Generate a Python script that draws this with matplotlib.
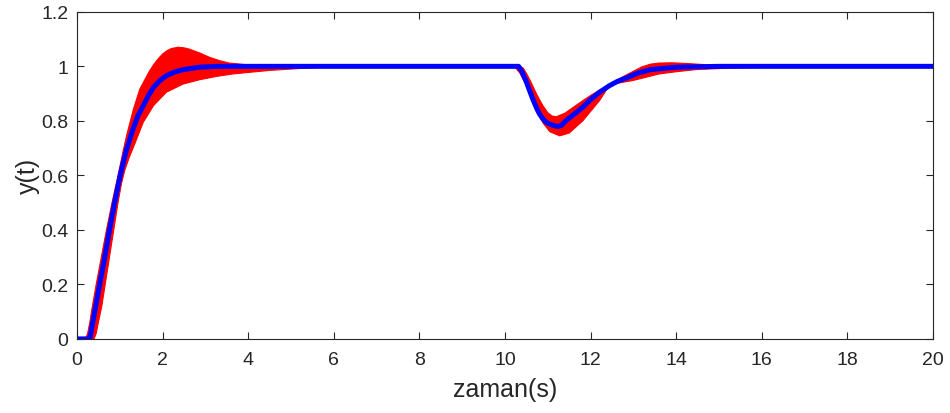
import matplotlib
matplotlib.use('Agg')
import matplotlib.pyplot as plt
import numpy as np

# nominal response (blue)
t_nom = [0, 0.3, 0.53, 0.65, 0.76, 0.88, 1.01, 1.15, 1.31, 1.43, 1.55, 1.67, 1.79, 1.94, 2.09,
         2.28, 2.48, 2.87, 3.3, 4.0, 10.32, 10.4, 10.49, 10.59, 10.65, 10.75, 10.81, 10.89, 10.96,
         11.06, 11.16, 11.24, 11.33, 11.43, 11.55, 11.67, 11.82, 12.0, 12.21, 12.44, 12.63, 12.83,
         13.1, 13.4, 14.0, 15.0, 20]
y_nom = [0, 0, 0.2, 0.3, 0.4, 0.5, 0.6, 0.69, 0.77, 0.82, 0.856, 0.893, 0.923, 0.948, 0.966,
         0.979, 0.988, 0.997, 1.0, 1.0, 1.0, 0.98, 0.947, 0.905, 0.880, 0.843, 0.825, 0.807, 0.795,
         0.787, 0.782, 0.779, 0.785, 0.801, 0.816, 0.831, 0.850, 0.878, 0.905, 0.929, 0.945, 0.957,
         0.975, 0.988, 0.997, 1.0, 1.0]

# upper envelope of the uncertain responses (red band)
t_up = [0, 0.2, 0.25, 0.3, 0.35, 0.45, 0.57, 0.69, 0.82, 0.96, 1.08, 1.16, 1.32, 1.47, 1.6, 1.7,
        1.8, 1.9, 2.0, 2.1, 2.2, 2.36, 2.5, 2.63, 2.87, 3.1, 3.33, 3.56, 4.03, 4.5, 5.0, 6.0,
        10.32, 10.42, 10.5, 10.6, 10.75, 10.89, 11.0, 11.1, 11.2, 11.4, 11.6, 11.82, 12.0, 12.21,
        12.44, 12.7, 13.0, 13.2, 13.4, 13.6, 13.9, 14.3, 14.8, 15.3, 16, 20]
y_up = [0, 0, 0.02, 0.06, 0.11, 0.2, 0.3, 0.4, 0.5, 0.6, 0.69, 0.746, 0.843, 0.917, 0.955, 0.984,
        1.008, 1.028, 1.045, 1.057, 1.065, 1.070, 1.068, 1.063, 1.049, 1.033, 1.021, 1.012, 1.005,
        1.002, 1.0, 1.0,
        1.0, 0.995, 0.975, 0.945, 0.895, 0.855, 0.83, 0.818, 0.815, 0.828, 0.85, 0.874, 0.893,
        0.913, 0.93, 0.957, 0.982, 0.998, 1.008, 1.012, 1.013, 1.01, 1.005, 1.002, 1.0, 1.0]

# lower envelope
t_lo = [0, 0.4, 0.45, 0.5, 0.58, 0.66, 0.76, 0.86, 0.96, 1.04, 1.12, 1.22, 1.35, 1.55, 1.79, 2.09,
        2.48, 2.87, 3.26, 3.64, 4.03, 4.5, 5.0, 5.5, 6.0, 7.0, 10.22, 10.35, 10.5, 10.6, 10.75,
        10.9, 11.05, 11.28, 11.5, 11.82, 12.21, 12.44, 12.7, 12.99, 13.22, 13.6, 13.99, 14.46,
        15.16, 15.9, 17, 20]
y_lo = [0, 0, 0.02, 0.06, 0.12, 0.2, 0.3, 0.4, 0.5, 0.57, 0.62, 0.665, 0.715, 0.795, 0.856, 0.905,
        0.935, 0.951, 0.963, 0.972, 0.978, 0.985, 0.99, 0.995, 0.998, 1.0, 1.0, 0.975, 0.93, 0.89,
        0.83, 0.79, 0.76, 0.745, 0.755, 0.80, 0.874, 0.93, 0.94, 0.948, 0.957, 0.972, 0.98, 0.988,
        0.993, 0.996, 1.0, 1.0]

x_ticks = list(range(0, 21, 2))
y_ticks = [0, 0.2, 0.4, 0.6, 0.8, 1, 1.2]
y_ticklabels = ['0', '0.2', '0.4', '0.6', '0.8', '1', '1.2']

plt.rcParams['font.family'] = ['Liberation Sans', 'DejaVu Sans']
axcol = '#262626'

fig = plt.figure(figsize=(9.5, 4.14), dpi=100)
ax = fig.add_axes([0.081, 0.179, 0.901, 0.79])

# band between envelopes
band_x = np.concatenate([t_up, t_lo[::-1]])
band_y = np.concatenate([y_up, y_lo[::-1]])
ax.fill(band_x, band_y, facecolor='red', edgecolor='red', lw=0.8)
ax.plot(t_nom, y_nom, color='blue', lw=3.6, solid_joinstyle='round')

ax.set_xlim(0, 20)
ax.set_ylim(0, 1.2)
ax.set_xticks(x_ticks)
ax.set_yticks(y_ticks)
ax.set_yticklabels(y_ticklabels)
ax.tick_params(direction='in', length=5, width=0.8, colors=axcol, labelsize=14,
               top=True, right=True)
ax.tick_params(axis='x', pad=9)
ax.tick_params(axis='y', pad=6)
for s in ax.spines.values():
    s.set_color(axcol)
    s.set_linewidth(0.8)

ax.set_xlabel('zaman(s)', fontsize=18, color=axcol, labelpad=6)
ax.set_ylabel('y(t)', fontsize=18, color=axcol, labelpad=1)

fig.savefig('out.png', dpi=100)
